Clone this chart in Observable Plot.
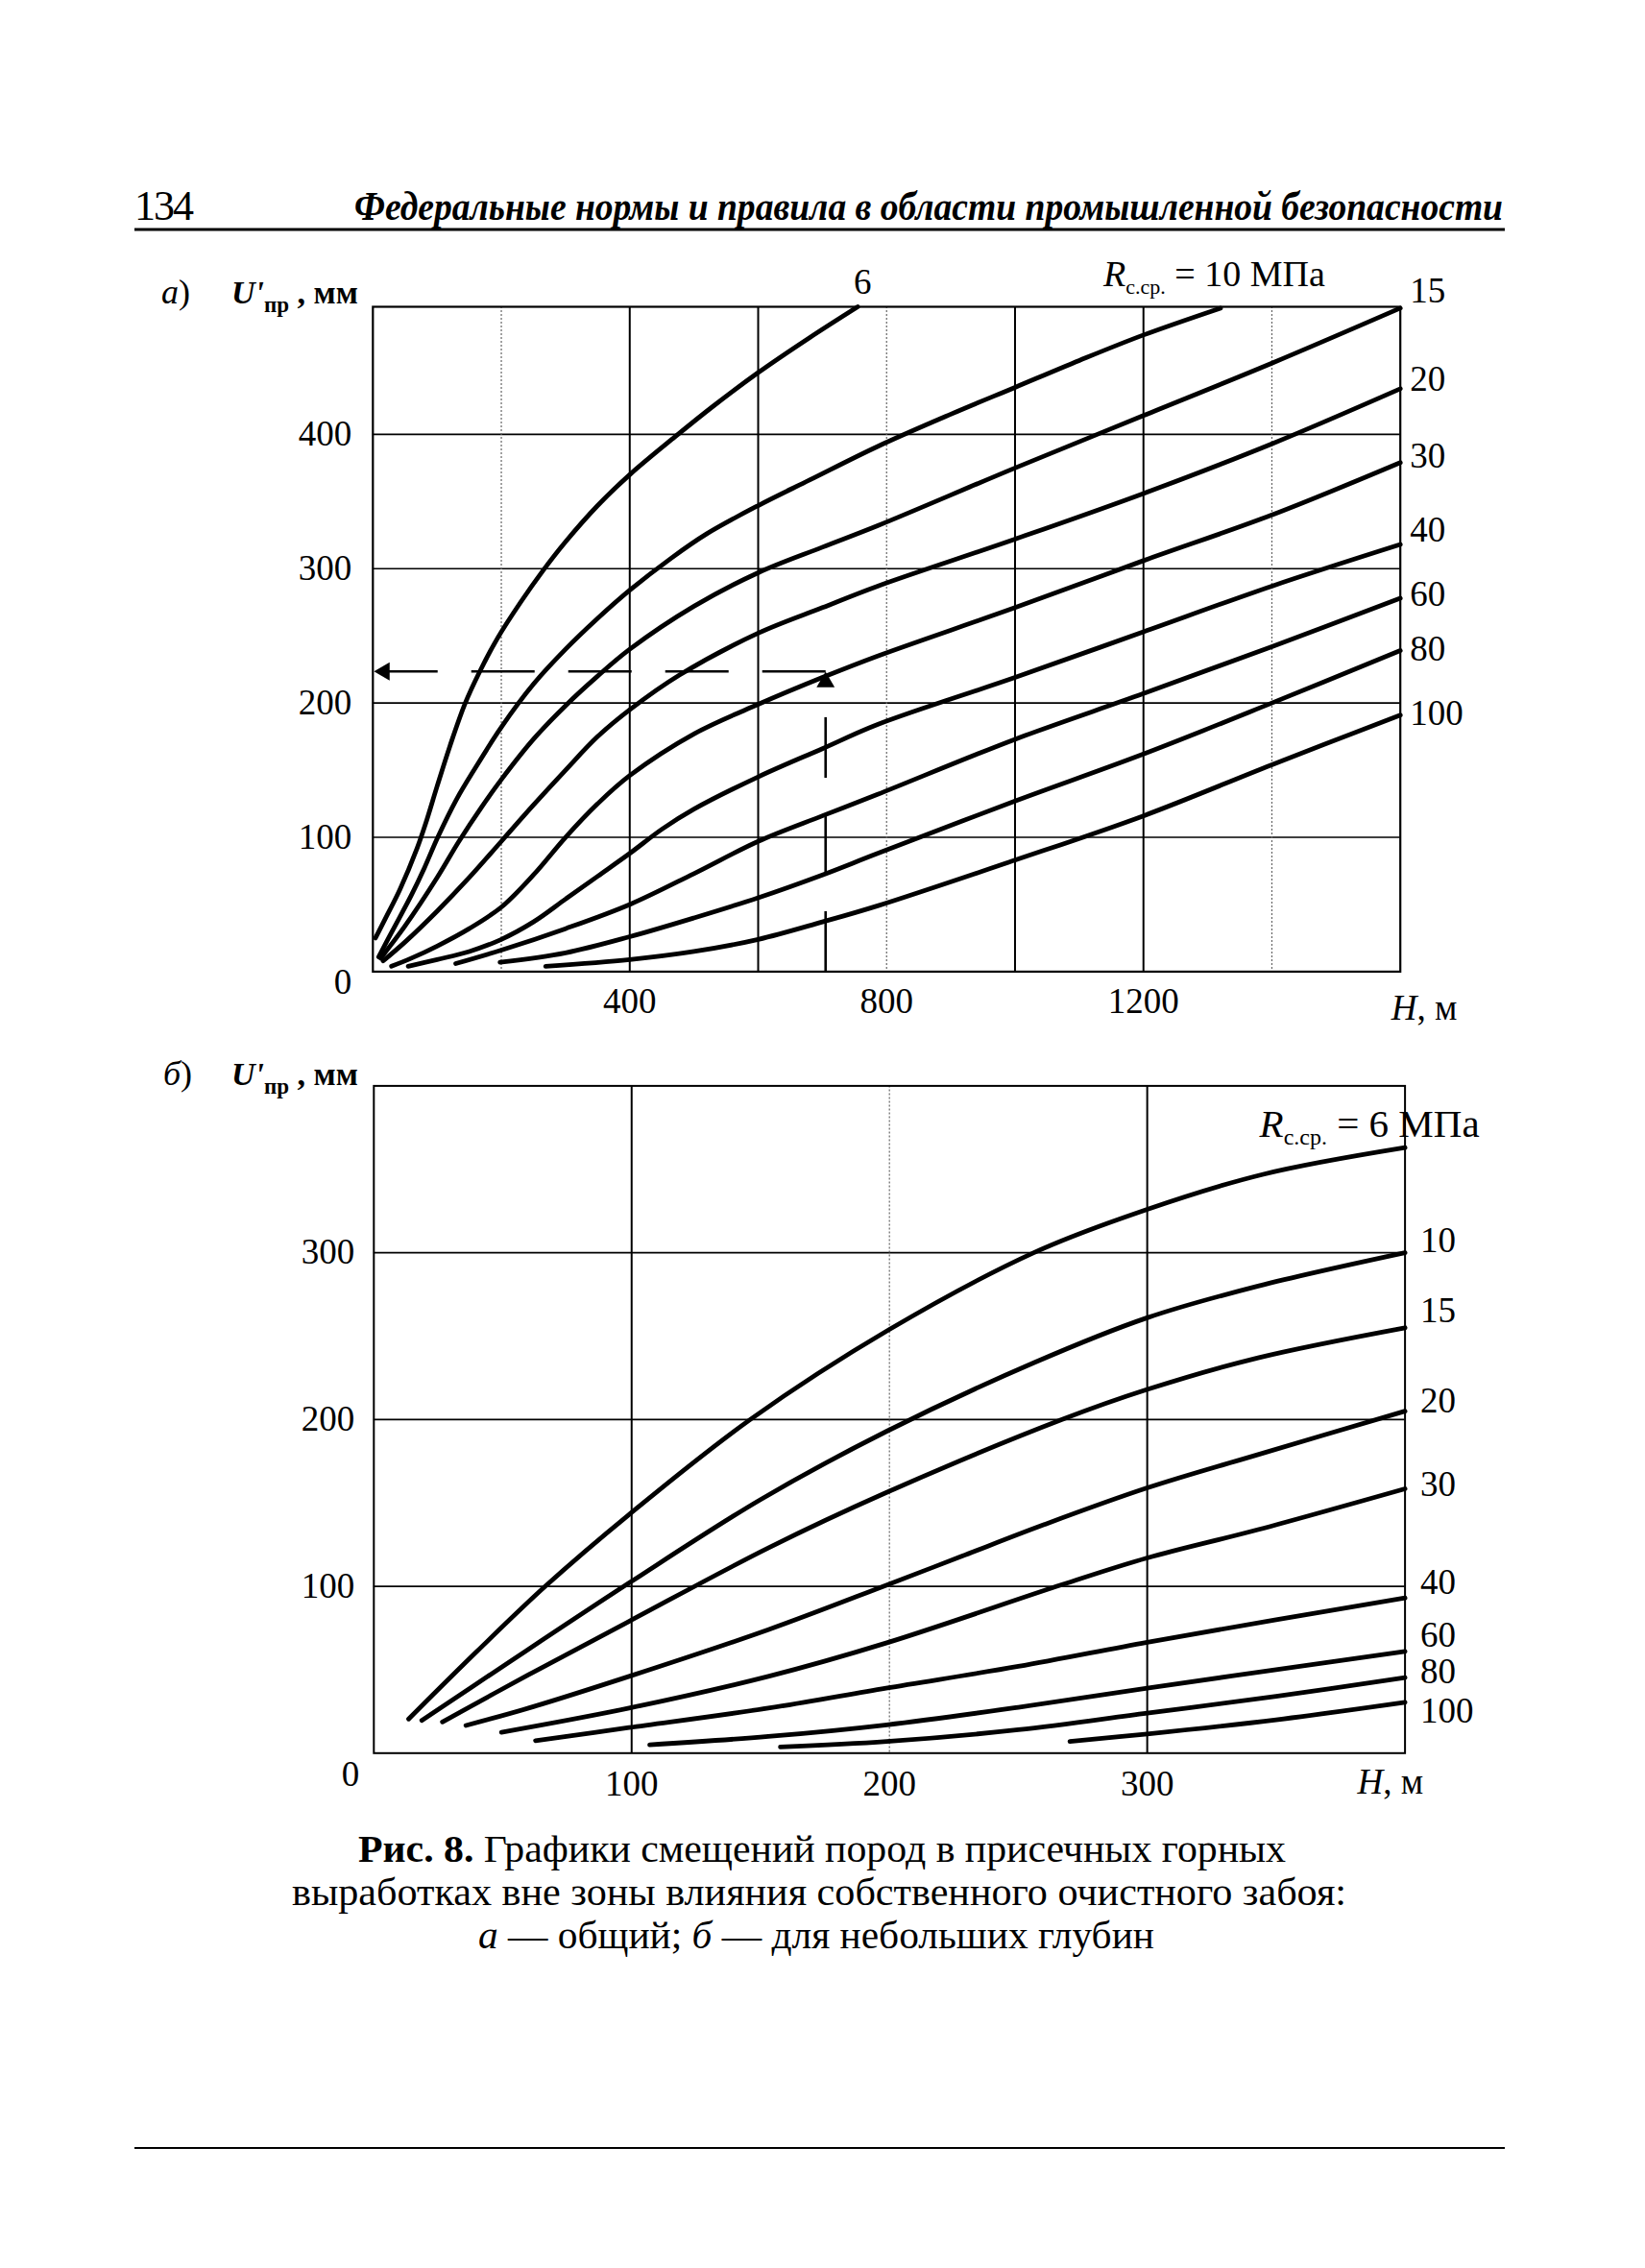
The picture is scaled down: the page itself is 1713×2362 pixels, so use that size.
<!DOCTYPE html>
<html><head><meta charset="utf-8">
<script src="https://cdn.jsdelivr.net/npm/d3@7"></script>
<script src="https://cdn.jsdelivr.net/npm/@observablehq/plot@0.6"></script>
<style>
body{margin:0;background:#fff;}
#page{position:relative;width:1713px;height:2362px;background:#fff;overflow:hidden}
#chartA,#chartB{position:absolute;left:0;width:1713px}
#chartA{top:250px}
#chartB{top:1080px}
#deco{position:absolute;left:0;top:0;pointer-events:none}
</style></head>
<body><div id="page"><div id="chartA"></div><div id="chartB"></div><svg id="deco" width="1713" height="2362"></svg></div>
<script>
const FONT = "'Liberation Serif','Times New Roman',serif";

// ---------- Panel а: general (H 0..1600 m) ----------
const rA = [6, 10, 15, 20, 30, 40, 60, 80, 100];
const a6   = [[4,25],[20,40],[42,61],[69,92],[82,110],[100,138],[120,168],[143,199],[166,223],[195,249],[230,275],[264,298],[300,320],[350,347],[400,370],[470,398],[530,421],[600,446],[680,472],[755,495]];
const a10  = [[9,11],[30,30],[60,57],[80,77],[101,100],[130,128],[160,152],[200,182],[250,214],[300,240],[350,263],[400,284],[465,308],[520,326],[600,347],[680,366],[786,391],[900,415],[1000,435],[1100,455],[1200,474],[1320,494]];
const a15  = [[12,10],[50,34],[100,70],[134,97],[170,123],[200,143],[250,173],[300,198],[350,220],[400,240],[500,272],[600,297],[700,316],[786,332],[1000,375],[1200,414],[1400,453],[1600,494]];
const a20  = [[16,8],[50,22],[100,45],[150,70],[200,97],[250,124],[300,150],[350,175],[400,195],[478,221],[600,252],[700,271],[786,287],[1000,322],[1200,356],[1400,393],[1600,434]];
const a30  = [[29,4],[60,10],[100,19],[150,32],[200,48],[250,72],[300,100],[350,125],[400,146],[500,177],[600,199],[700,219],[786,235],[1000,271],[1200,306],[1400,340],[1600,379]];
const a40  = [[55,4],[100,9],[150,15],[200,24],[250,37],[300,54],[350,71],[400,88],[450,106],[500,121],[600,145],[700,166],[786,184],[1000,219],[1200,253],[1400,287],[1600,318]];
const a60  = [[129,6],[200,16],[300,32],[400,50],[500,73],[600,97],[700,116],[786,132],[1000,173],[1200,207],[1400,242],[1600,278]];
const a80  = [[198,7],[300,14],[400,26],[500,40],[600,55],[700,72],[786,88],[1000,127],[1200,162],[1400,200],[1600,239]];
const a100 = [[269,4],[400,9],[500,15],[600,24],[700,37],[786,49],[1000,83],[1200,116],[1400,154],[1600,191]];
const aTicksH = [400, 800, 1200];
const aTicksU = [100, 200, 300, 400];
const aGridHBold = [400, 600, 1000, 1200];
const aGridHLight = [200, 800, 1400];
const aLabelText = ["15", "20", "30", "40", "60", "80", "100"];
const aLabelU = [507, 441, 384, 329, 281, 240, 192];
const aGuideH = [705];     // vertical guide (H, m)
const aGuideU = [223.5];   // horizontal guide (U', mm)

// ---------- Panel б: small depths (H 0..400 m) ----------
const rB = [6, 10, 15, 20, 30, 40, 60, 80, 100];
const b6   = [[13.5,20.5],[40,61],[66.5,100],[99,143],[146,200],[200,254],[256,300],[300,326],[345,347],[400,363]];
const b10  = [[18.6,19.6],[50,52],[99,102],[150,152],[199,193],[256,234],[300,261],[343,280],[400,300]];
const b15  = [[26.6,18.7],[60,47],[99,79],[153,123],[198.5,156],[267,200],[300,218],[343,237],[400,255]];
const b20  = [[35.7,16.6],[60,27],[99,46],[153,74],[198.5,100.5],[228,118],[260,137],[300,159],[343,179],[400,205]];
const b30  = [[49.5,12.5],[99,27],[153,46],[198.7,66],[267,101],[300,117],[343,134],[400,158.5]];
const b40  = [[62.7,7.5],[99,15.3],[153,27],[198.7,39],[250,52],[300,66.5],[350,80],[400,93]];
const b60  = [[107,5],[153,10],[199,17],[250,27.5],[300,39],[350,50],[400,61]];
const b80  = [[157.7,3.7],[199,7],[250,14],[300,24],[350,34],[400,45.3]];
const b100 = [[270,7],[300,11.5],[350,20],[400,30.5]];
const bTicksH = [100, 200, 300];
const bTicksU = [100, 200, 300];
const bGridHBold = [100, 300];
const bGridHLight = [200];
const bLabelText = ["10", "15", "20", "30", "40", "60", "80", "100"];
const bLabelU = [307, 265, 211, 161, 102, 70.6, 48.5, 25.1];

const zero = [0];

function table(rs, curves) {
  return rs.flatMap((r, i) => curves[i].map(([h, u]) => ({r, h, u})));
}
const dataA = table(rA, [a6, a10, a15, a20, a30, a40, a60, a80, a100]);
const dataB = table(rB, [b6, b10, b15, b20, b30, b40, b60, b80, b100]);

function rich(sel, x, y, parts, anchor = "start", size = 37) {
  const t = sel.append("text").attr("x", x).attr("y", y).attr("text-anchor", anchor)
    .attr("font-family", FONT).attr("font-size", size).attr("fill", "black");
  for (const p of parts) {
    const s = t.append("tspan").text(p.t);
    if (p.size) s.attr("font-size", p.size);
    if (p.italic) s.attr("font-style", "italic");
    if (p.bold) s.attr("font-weight", "bold");
    if (p.dy) s.attr("dy", p.dy);
  }
  return t;
}

const baseStyle = {fontFamily: FONT, fontSize: "37px", background: "transparent", color: "black", overflow: "visible"};
const fmt = d => String(d);

// ---------- Chart а ----------
const plotA = Plot.plot({
  width: 1713, height: 830,
  marginLeft: 387.8, marginRight: 255.3, marginTop: 69, marginBottom: 68.6,
  style: baseStyle,
  x: {domain: [0, 1600], ticks: aTicksH, tickSize: 0, tickPadding: 17, tickFormat: fmt, label: null},
  y: {domain: [0, 495], ticks: aTicksU, tickSize: 0, tickPadding: 22, tickFormat: fmt, label: null},
  marks: [
    Plot.ruleY(aTicksU, {stroke: "black", strokeWidth: 1.6}),
    Plot.ruleX(aGridHLight, {stroke: "#666", strokeWidth: 1.2, strokeDasharray: "2,2"}),
    Plot.ruleX(aGridHBold, {stroke: "black", strokeWidth: 2}),
    Plot.frame({stroke: "black", strokeWidth: 2.2}),
    Plot.line(dataA, {x: "h", y: "u", z: "r", curve: "catmull-rom", stroke: "black", strokeWidth: 4.8}),
    // dashed guide lines
    Plot.link(aGuideU, {x1: () => aGuideH[0], y1: d => d, x2: () => 14, y2: d => d, stroke: "black", strokeWidth: 2.6, strokeDasharray: "66,35"}),
    Plot.link(aGuideH, {x1: d => d, y1: () => 0, x2: d => d, y2: () => 208, stroke: "black", strokeWidth: 2.6, strokeDasharray: "63,38"}),
    Plot.dot(aGuideU, {x: () => 0, y: d => d, symbol: "triangle", r: 7, fill: "black", stroke: "none", rotate: -90, dx: 12}),
    Plot.dot(aGuideH, {x: d => d, y: () => aGuideU[0], symbol: "triangle", r: 7, fill: "black", stroke: "none", dy: 11}),
    // curve labels
    Plot.text(aLabelText, {y: (d, i) => aLabelU[i], text: d => d, frameAnchor: "right", dx: 10, textAnchor: "start", lineAnchor: "middle", fontSize: 37}),
    Plot.text([a6[a6.length - 1]], {x: d => d[0], y: d => d[1], text: () => String(rA[0]), dx: 5, dy: -25, lineAnchor: "middle", fontSize: 37}),
    Plot.text(zero, {x: d => d, y: d => d, text: d => String(d), textAnchor: "end", dx: -22, dy: 11, lineAnchor: "middle", fontSize: 37})
  ]
});
document.getElementById("chartA").appendChild(plotA);

// ---------- Chart б ----------
const plotB = Plot.plot({
  width: 1713, height: 830,
  marginLeft: 388.8, marginRight: 250.4, marginTop: 50.4, marginBottom: 84.7,
  style: baseStyle,
  x: {domain: [0, 400], ticks: bTicksH, tickSize: 0, tickPadding: 18, tickFormat: fmt, label: null},
  y: {domain: [0, 400], ticks: bTicksU, tickSize: 0, tickPadding: 20, tickFormat: fmt, label: null},
  marks: [
    Plot.ruleY(bTicksU, {stroke: "black", strokeWidth: 1.6}),
    Plot.ruleX(bGridHLight, {stroke: "#666", strokeWidth: 1.2, strokeDasharray: "2,2"}),
    Plot.ruleX(bGridHBold, {stroke: "black", strokeWidth: 2}),
    Plot.frame({stroke: "black", strokeWidth: 2}),
    Plot.line(dataB, {x: "h", y: "u", z: "r", curve: "catmull-rom", stroke: "black", strokeWidth: 4.8}),
    Plot.text(bLabelText, {y: (d, i) => bLabelU[i], text: d => d, frameAnchor: "right", dx: 16, textAnchor: "start", lineAnchor: "middle", fontSize: 37}),
    Plot.text(zero, {x: d => d, y: d => d, text: d => String(d), textAnchor: "end", dx: -15, dy: 22, lineAnchor: "middle", fontSize: 37})
  ]
});
document.getElementById("chartB").appendChild(plotB);

// ---------- rich labels placed through the plots' scales ----------
{
  const sx = plotA.scale("x"), sy = plotA.scale("y");
  const g = d3.select(plotA);
  const top = sy.apply(495);
  rich(g, 168, top - 3, [{t: "а", italic: true}, {t: ")"}], "start", 36);
  rich(g, 241, top - 3, [{t: "U'", italic: true, bold: true}, {t: "пр", bold: true, size: 23, dy: 9}, {t: " , мм", bold: true, dy: -9}], "start", 34);
  const e = a10[a10.length - 1];
  rich(g, sx.apply(e[0]) - 6, sy.apply(e[1]) - 22, [{t: "R", italic: true}, {t: "с.ср.", size: 22, dy: 8}, {t: " = 10 МПа", dy: -8}], "middle", 38);
  rich(g, sx.apply(1600) - 9, sy.apply(0) + 51, [{t: "H", italic: true}, {t: ", м"}], "start", 37);
}
{
  const sx = plotB.scale("x"), sy = plotB.scale("y");
  const g = d3.select(plotB);
  const top = sy.apply(400);
  rich(g, 170, top, [{t: "б", italic: true}, {t: ")"}], "start", 36);
  rich(g, 241, top, [{t: "U'", italic: true, bold: true}, {t: "пр", bold: true, size: 23, dy: 9}, {t: " , мм", bold: true, dy: -9}], "start", 34);
  const e = b6[b6.length - 1];
  rich(g, sx.apply(e[0]) + 78, sy.apply(e[1]) - 11, [{t: "R", italic: true}, {t: "с.ср.", size: 24, dy: 8}, {t: " = 6 МПа", dy: -8}], "end", 41);
  rich(g, sx.apply(400) - 49, sy.apply(0) + 43, [{t: "H", italic: true}, {t: ", м"}], "start", 37);
}

// ---------- page header, caption, rules ----------
const deco = d3.select("#deco");
deco.append("text").attr("x", 140).attr("y", 229).attr("font-family", FONT).attr("font-size", 44)
  .attr("textLength", 62).text("134");
deco.append("text").attr("x", 369).attr("y", 229).attr("font-family", FONT).attr("font-size", 42)
  .attr("font-style", "italic").attr("font-weight", "bold").attr("textLength", 1196)
  .attr("lengthAdjust", "spacingAndGlyphs")
  .text("Федеральные нормы и правила в области промышленной безопасности");
deco.append("line").attr("x1", 140).attr("x2", 1567).attr("y1", 239).attr("y2", 239).attr("stroke", "black").attr("stroke-width", 3);
deco.append("line").attr("x1", 140).attr("x2", 1567).attr("y1", 2237).attr("y2", 2237).attr("stroke", "black").attr("stroke-width", 2);

const cap1 = rich(deco, 856, 1939, [{t: "Рис. 8.", bold: true}, {t: " Графики смещений пород в присечных горных"}], "middle", 41);
cap1.attr("textLength", 966).attr("lengthAdjust", "spacingAndGlyphs");
const cap2 = rich(deco, 853, 1984, [{t: "выработках вне зоны влияния собственного очистного забоя:"}], "middle", 41);
cap2.attr("textLength", 1098).attr("lengthAdjust", "spacingAndGlyphs");
const cap3 = rich(deco, 850, 2029, [{t: "а", italic: true}, {t: " — общий; "}, {t: "б", italic: true}, {t: " — для небольших глубин"}], "middle", 41);
cap3.attr("textLength", 704).attr("lengthAdjust", "spacingAndGlyphs");
</script></body></html>
